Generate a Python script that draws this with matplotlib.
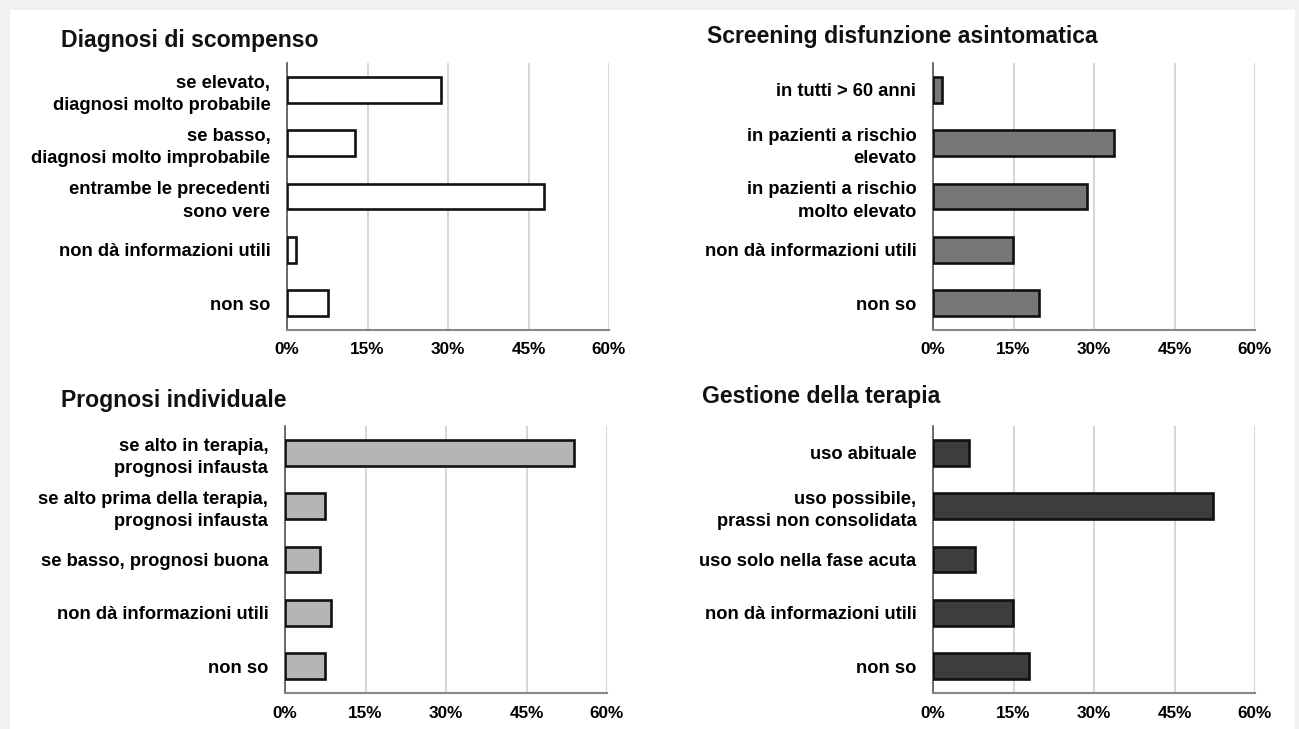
import matplotlib
matplotlib.use("Agg")
import matplotlib.pyplot as plt
from matplotlib.patches import Rectangle

plt.rcParams['font.family'] = ['Liberation Sans', 'DejaVu Sans']
plt.rcParams['font.weight'] = 'bold'

# ---- data ----
titles = ["Diagnosi di scompenso", "Screening disfunzione asintomatica",
          "Prognosi individuale", "Gestione della terapia"]

cats_diagnosi = ["se elevato,\ndiagnosi molto probabile",
                 "se basso,\ndiagnosi molto improbabile",
                 "entrambe le precedenti\nsono vere",
                 "non dà informazioni utili",
                 "non so"]
vals_diagnosi = [28.7, 12.7, 47.8, 1.6, 7.6]

cats_screening = ["in tutti > 60 anni",
                  "in pazienti a rischio\nelevato",
                  "in pazienti a rischio\nmolto elevato",
                  "non dà informazioni utili",
                  "non so"]
vals_screening = [1.7, 33.8, 28.7, 14.9, 19.8]

cats_prognosi = ["se alto in terapia,\nprognosi infausta",
                 "se alto prima della terapia,\nprognosi infausta",
                 "se basso, prognosi buona",
                 "non dà informazioni utili",
                 "non so"]
vals_prognosi = [53.8, 7.5, 6.5, 8.5, 7.5]

cats_terapia = ["uso abituale",
                "uso possibile,\nprassi non consolidata",
                "uso solo nella fase acuta",
                "non dà informazioni utili",
                "non so"]
vals_terapia = [6.8, 52.1, 7.9, 14.9, 17.8]

xticks = [0, 15, 30, 45, 60]
xtick_labels = ["0%", "15%", "30%", "45%", "60%"]

colors = ["#ffffff", "#777777", "#b5b5b5", "#3d3d3d"]

W, H = 1299, 729
fig = plt.figure(figsize=(W / 100, H / 100), dpi=100)
fig.patch.set_facecolor("#f1f1f1")
fig.add_artist(Rectangle((10 / W, 0), (1295 - 10) / W, 1 - 10 / H,
                         transform=fig.transFigure, facecolor="white",
                         edgecolor="none", zorder=0))

def px_axes(x0, x1, y0, y1):
    return [x0 / W, 1 - y1 / H, (x1 - x0) / W, (y1 - y0) / H]

panels = [
    (px_axes(287, 609, 63, 330), cats_diagnosi, vals_diagnosi, (61, 41)),
    (px_axes(933, 1255, 63, 330), cats_screening, vals_screening, (707, 37)),
    (px_axes(285, 607, 426, 693), cats_prognosi, vals_prognosi, (61, 401)),
    (px_axes(933, 1255, 426, 693), cats_terapia, vals_terapia, (702, 396)),
]

for i, (rect, cats, vals, tpos) in enumerate(panels):
    ax = fig.add_axes(rect)
    ax.set_facecolor("none")
    y = list(range(len(cats)))
    ax.barh(y, vals, height=0.48, color=colors[i], edgecolor="#111111",
            linewidth=1.9, zorder=3)
    ax.set_xlim(0, 60)
    ax.set_ylim(4.5, -0.5)
    ax.set_xticks(xticks)
    ax.set_xticklabels(xtick_labels, fontsize=12.3, fontweight='bold')
    ax.set_yticks(y)
    ax.set_yticklabels(cats, fontsize=13.2, fontweight='bold', linespacing=1.4)
    ax.tick_params(axis='y', length=0, pad=12)
    ax.tick_params(axis='x', length=0, pad=9)
    ax.xaxis.grid(True, color="#d0d0d0", linewidth=1.2, zorder=0)
    ax.set_axisbelow(True)
    for s in ["top", "right"]:
        ax.spines[s].set_visible(False)
    ax.spines["left"].set_color("#555555")
    ax.spines["left"].set_linewidth(1.2)
    ax.spines["bottom"].set_color("#888888")
    ax.spines["bottom"].set_linewidth(1.5)
    fig.text(tpos[0] / W, 1 - tpos[1] / H, titles[i], fontsize=16.6,
             fontweight='bold', ha='left', va='center', color="#111111")

fig.savefig("out.png", dpi=100, facecolor=fig.get_facecolor())
